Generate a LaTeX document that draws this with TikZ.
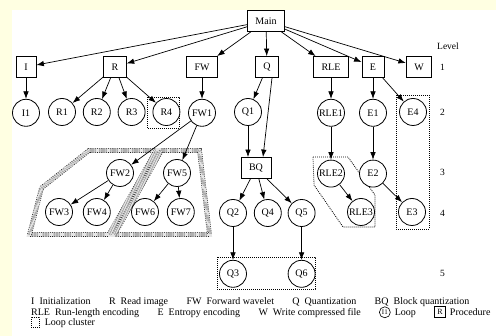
\documentclass[tikz,border=0pt]{standalone}
\usepackage{fontspec}
\setmainfont{Liberation Serif}
\usepackage{tikz}
\usetikzlibrary{arrows.meta,positioning,calc}
\definecolor{pagebg}{RGB}{255,255,226}
\newcommand{\leggap}{18pt}
\tikzset{
  cgbox/.style={draw=black, line width=0.8pt, fill=white, minimum width=20pt, minimum height=21pt, inner xsep=8pt, inner ysep=0pt},
  cgloop/.style={draw=black, circle, line width=0.8pt, fill=white, minimum size=27pt, inner sep=0pt},
  cgline/.style={-{Latex[length=7.5pt,width=5.5pt]}, line width=0.7pt},
  cgclust/.style={dash pattern=on 0.9pt off 1.1pt, line width=0.8pt},
  cgband/.style={preaction={draw=gray!20, line width=4.6pt}, dash pattern=on 0.8pt off 1.4pt, line width=0.55pt, double=gray!20, double distance=3.5pt},
  cglevel/.style={inner sep=0pt, anchor=west, font=\fontsize{9.5}{11}\selectfont},
  cglegend/.style={inner sep=0pt, anchor=base west, font=\fontsize{10}{11}\selectfont}
}
\begin{document}
\begin{tikzpicture}[x=1pt, y=-1pt, font=\fontsize{10}{12}\selectfont]
  \useasboundingbox (0,0) rectangle (496,336);
  \fill[pagebg] (0,0) rectangle (496,336);
  \fill[white] (12,10) rectangle (496,336);
  % loop clusters
  \draw[cgband] (29.5,234.5) -- (41.5,188) -- (89,150.5) -- (156,150.5) -- (109,234.5) -- cycle;
  \draw[cgband] (161.5,150.5) -- (199.5,150.5) -- (209.5,234.5) -- (114.5,234.5) -- cycle;
  \draw[cgclust] (147,97) rectangle (179,128);
  \draw[cgclust] (396,95) rectangle (429,229);
  \draw[cgclust] (217,257) rectangle (315,289);
  \draw[cgclust] (313,157) -- (348,157) -- (375,195) -- (375,227) -- (343,227) -- (314,185) -- cycle;

  % level 0 and 1
  \node[cgbox] (main) at (266,21) {Main};
  \node[cgbox] (i) at (26,67) {I};
  \node[cgbox] (r) at (115,67) {R};
  \node[cgbox] (fw) at (202,67) {FW};
  \node[cgbox] (q) at (267,67) {Q};
  \node[cgbox] (rle) at (331,67) {RLE};
  \node[cgbox] (e) at (373,67) {E};
  \node[cgbox] (w) at (419,67) {W};
  % level 2
  \node[cgloop, below=21pt of i] (i1) {I1};
  \node[cgloop] (r1) at (62,112) {R1};
  \node[cgloop, right=7pt of r1] (r2) {R2};
  \node[cgloop, right=7pt of r2] (r3) {R3};
  \node[cgloop, right=7pt of r3] (r4) {R4};
  \node[cgloop, below=21pt of fw] (fw1) {FW1};
  \node[cgloop] (q1) at (248,112) {Q1};
  \node[cgloop, below=21pt of rle] (rle1) {RLE1};
  \node[cgloop, below=21pt of e] (e1) {E1};
  \node[cgloop] (e4) at (413,112) {E4};
  % level 3
  \node[cgloop] (fw2) at (120,173) {FW2};
  \node[cgloop] (fw5) at (177,173) {FW5};
  \node[cgbox] (bq) at (256,168) {BQ};
  \node[cgloop, below=33pt of rle1] (rle2) {RLE2};
  \node[cgloop, below=33pt of e1] (e2) {E2};
  % level 4
  \node[cgloop] (fw3) at (59,212) {FW3};
  \node[cgloop, right=10pt of fw3] (fw4) {FW4};
  \node[cgloop] (fw6) at (145,212) {FW6};
  \node[cgloop, right=8pt of fw6] (fw7) {FW7};
  \node[cgloop] (q2) at (233,213) {Q2};
  \node[cgloop, right=7pt of q2] (q4) {Q4};
  \node[cgloop, right=6pt of q4] (q5) {Q5};
  \node[cgloop] (rle3) at (361,212) {RLE3};
  \node[cgloop] (e3) at (412,212) {E3};
  % level 5
  \node[cgloop, below=33pt of q2] (q3) {Q3};
  \node[cgloop, below=33pt of q5] (q6) {Q6};

  \draw[cgline] (main) -- (i);
  \draw[cgline] (main) -- (r);
  \draw[cgline] (main) -- (fw);
  \draw[cgline] (main) -- (q);
  \draw[cgline] (main) -- (rle);
  \draw[cgline] (main) -- (e);
  \draw[cgline] (main) -- (w);
  \draw[cgline] (i) -- (i1);
  \draw[cgline] (r) -- (r1);
  \draw[cgline] (r) -- (r2);
  \draw[cgline] (r) -- (r3);
  \draw[cgline] (r) -- (r4);
  \draw[cgline] (fw) -- (fw1);
  \draw[cgline] (fw1) -- (fw2);
  \draw[cgline] (fw1) -- (fw5);
  \draw[cgline] (fw2) -- (fw3);
  \draw[cgline] (fw2) -- (fw4);
  \draw[cgline] (fw5) -- (fw6);
  \draw[cgline] (fw5) -- (fw7);
  \draw[cgline] (q) -- (q1);
  \draw[cgline] ([xshift=5pt]q.south) -- ([xshift=7pt]bq.north);
  \draw[cgline] (q1) -- (q1 |- bq.north);
  \draw[cgline] (bq) -- (q2);
  \draw[cgline] (bq) -- (q4);
  \draw[cgline] (bq) -- (q5);
  \draw[cgline] (q2) -- (q3);
  \draw[cgline] (q5) -- (q6);
  \draw[cgline] (rle) -- (rle1);
  \draw[cgline] (rle1) -- (rle2);
  \draw[cgline] (rle2) -- (rle3);
  \draw[cgline] (e) -- (e1);
  \draw[cgline] (e1) -- (e2);
  \draw[cgline] (e2) -- (e3);
  \draw[cgline] (e) -- (e4);

  % level column
  \node[cglevel] (lvl) at (437,46) {Level};
  \node[cglevel] (lv1) at (440,67) {1};
  \node[cglevel] (lv2) at (440,112) {2};
  \node[cglevel] (lv3) at (440,172) {3};
  \node[cglevel] (lv4) at (440,213) {4};
  \node[cglevel] (lv5) at (440,273) {5};

  % legend
  \node[cglegend] (lgi) at (31,305) {I\enspace Initialization};
  \node[cglegend] (lgr) at ([xshift=\leggap]lgi.base east) {R\enspace Read image};
  \node[cglegend] (lgfw) at ([xshift=\leggap]lgr.base east) {FW\enspace Forward wavelet};
  \node[cglegend] (lgq) at ([xshift=\leggap]lgfw.base east) {Q\enspace Quantization};
  \node[cglegend] (lgbq) at ([xshift=\leggap]lgq.base east) {BQ\enspace Block quantization};
  \node[cglegend] (lgrle) at (31,315.5) {RLE\enspace Run-length encoding};
  \node[cglegend] (lge) at ([xshift=\leggap]lgrle.base east) {E\enspace Entropy encoding};
  \node[cglegend] (lgw) at ([xshift=\leggap]lge.base east) {W\enspace Write compressed file};
  \node[draw, circle, line width=0.6pt, inner sep=0pt, minimum size=11pt, anchor=west, font=\fontsize{7}{8}\selectfont] (lgloop) at ([xshift=\leggap, yshift=3.2pt]lgw.base east) {I1};
  \node[cglegend] (lglooptxt) at ($(lgloop.east |- lgw.base)+(4,0)$) {Loop};
  \node[draw, line width=0.6pt, inner sep=0pt, minimum width=11pt, minimum height=11pt, anchor=west, font=\fontsize{8}{9}\selectfont] (lgproc) at ([xshift=\leggap, yshift=3.2pt]lglooptxt.base east) {R};
  \node[cglegend] (lgproctxt) at ($(lgproc.east |- lgw.base)+(4,0)$) {Procedure};
  \node[draw, dash pattern=on 0.9pt off 1.1pt, line width=0.6pt, inner sep=0pt, minimum width=8pt, minimum height=10pt, anchor=west] (lgclu) at (31,322.5) {};
  \node[cglegend] (lgclutxt) at ($(lgclu.east |- 0,326)+(5,0)$) {Loop cluster};
\end{tikzpicture}
\end{document}
